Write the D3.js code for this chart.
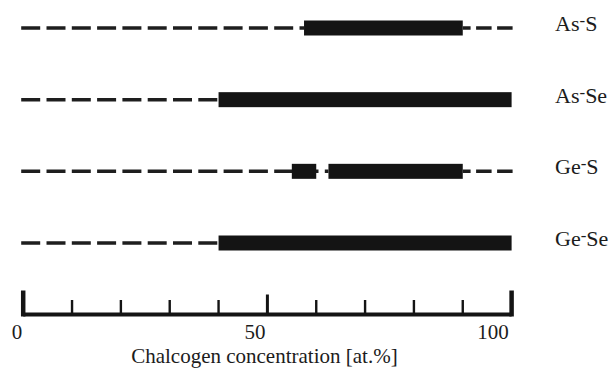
<!DOCTYPE html>
<html>
<head>
<meta charset="utf-8">
<script src="https://cdn.jsdelivr.net/npm/d3@7"></script>
<style>
  html, body { margin: 0; padding: 0; background: #fff; }
  svg { display: block; }
</style>
</head>
<body>
<svg id="chart" width="616" height="371"></svg>
<script>
// ---- data ----
const systems = ["As-S", "As-Se", "Ge-S", "Ge-Se"];
// glass-forming ranges (chalcogen at.%) for each system
const glassRanges = [
  [[57.5, 90]],
  [[40, 100]],
  [[55, 60], [62.5, 90]],
  [[40, 100]]
];
const tickValues = [0, 10, 20, 30, 40, 50, 60, 70, 80, 90, 100];
const tickLabels = [0, 50, 100];
const xTitle = "Chalcogen concentration [at.%]";

// ---- layout ----
const FONT = "'Liberation Serif', 'DejaVu Serif', 'Times New Roman', serif";
const svg = d3.select("#chart");
const x = d3.scaleLinear().domain([0, 100]).range([23.2, 511.6]);
const labelX = d3.scaleLinear().domain([0, 100]).range([17, 493]);
const y = d3.scalePoint().domain(systems).range([28, 243]);
const barH = 15;
const axisY = 314.5;
const ink = "#141414";
const textInk = "#1c1c1c";

// dashed baselines
systems.forEach((s, i) => {
  const r = glassRanges[i];
  const lastStart = r[r.length - 1][0];
  const lastEnd = r[r.length - 1][1];
  svg.append("line")
    .attr("x1", x(0) - 2).attr("x2", x(lastStart))
    .attr("y1", y(s)).attr("y2", y(s))
    .attr("stroke", "#1e1e1e").attr("stroke-width", 3.5)
    .attr("stroke-dasharray", "19,6.3");
  if (lastEnd < 100) {
    svg.append("line")
      .attr("x1", x(100) + 1).attr("x2", x(lastEnd))
      .attr("y1", y(s)).attr("y2", y(s))
      .attr("stroke", "#1e1e1e").attr("stroke-width", 3.5)
      .attr("stroke-dasharray", "15.5,5.5");
  }
});

// bars
systems.forEach((s, i) => {
  svg.selectAll(null).data(glassRanges[i]).enter().append("rect")
    .attr("x", d => x(d[0]))
    .attr("width", d => x(d[1]) - x(d[0]))
    .attr("y", y(s) - barH / 2)
    .attr("height", barH)
    .attr("fill", ink);
});

// row labels
systems.forEach(s => {
  const parts = s.split("-");
  const t = svg.append("text")
    .attr("x", 555).attr("y", y(s) + 3)
    .attr("font-family", FONT).attr("fill", textInk)
    .attr("font-size", 22);
  t.append("tspan").text(parts[0]);
  t.append("tspan").attr("font-size", 17).attr("dy", -5).text("-");
  t.append("tspan").attr("font-size", 22).attr("dy", 5).text(parts[1]);
});

// axis
svg.append("line")
  .attr("x1", x(0)).attr("x2", x(100))
  .attr("y1", axisY).attr("y2", axisY)
  .attr("stroke", ink).attr("stroke-width", 4);
svg.selectAll(null).data(tickValues).enter().append("line")
  .attr("x1", d => x(d)).attr("x2", d => x(d))
  .attr("y1", d => (d === 0 || d === 100) ? axisY + 2 : axisY)
  .attr("y2", d => (d === 0 || d === 100) ? axisY - 24 : (d === 50 ? axisY - 20 : axisY - 14.5))
  .attr("stroke", ink)
  .attr("stroke-width", d => (d === 0 || d === 100) ? 4.5 : (d === 50 ? 3 : 2.4));

svg.selectAll(null).data(tickLabels).enter().append("text")
  .attr("x", d => labelX(d)).attr("y", 339)
  .attr("text-anchor", "middle")
  .attr("font-family", FONT).attr("fill", textInk)
  .attr("font-size", 21)
  .text(d => d);

svg.append("text")
  .attr("x", x(50) - 3).attr("y", 363)
  .attr("text-anchor", "middle")
  .attr("font-family", FONT).attr("fill", textInk)
  .attr("font-size", 21)
  .text(xTitle);
</script>
</body>
</html>
